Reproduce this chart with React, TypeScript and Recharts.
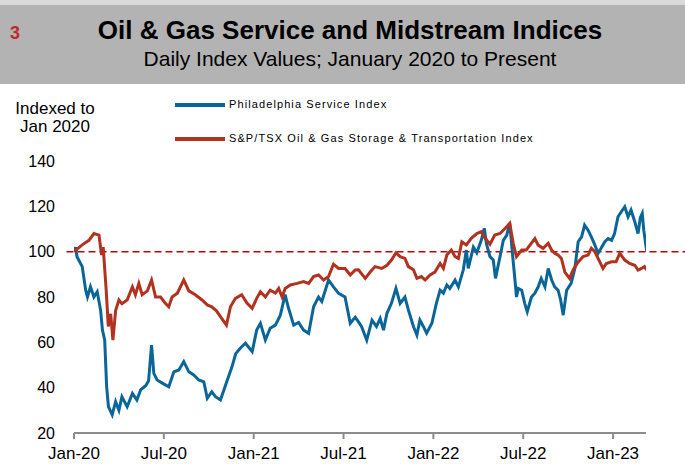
import React from "react";
import { LineChart, Line, XAxis, YAxis, ReferenceLine } from "recharts";

// months since Jan 2020 / index level (Jan 2020 = 100)
const phlxMonths = [
  0, 0.1, 0.2, 0.55, 0.78, 0.9, 1.1, 1.33, 1.55, 1.78, 1.9, 2.05, 2.18, 2.3, 2.55, 2.78, 3.0, 3.2, 3.55, 3.9,
  4.2, 4.45, 4.8, 4.98, 5.18, 5.33, 5.55, 5.9, 6.33, 6.67, 7.0, 7.33, 7.67, 8.0, 8.33, 8.67, 8.9, 9.2, 9.45, 9.78,
  10.2, 10.55, 10.8, 11.1, 11.45, 11.9, 12.2, 12.45, 12.78, 13.1, 13.45, 13.78, 14.1, 14.3, 14.67, 15.0, 15.33, 15.67, 16.0, 16.33,
  16.55, 17.0, 17.33, 17.67, 18.1, 18.45, 18.78, 19.0, 19.2, 19.55, 19.9, 20.2, 20.45, 20.67, 20.9, 21.2, 21.5, 21.78, 22.1, 22.33,
  22.67, 22.9, 23.1, 23.33, 23.55, 23.9, 24.2, 24.45, 24.67, 24.9, 25.1, 25.45, 25.67, 26.0, 26.2, 26.33, 26.67, 26.9, 27.2, 27.4,
  27.55, 27.78, 28.0, 28.15, 28.45, 28.67, 28.9, 29.1, 29.3, 29.45, 29.55, 29.67, 29.9, 30.1, 30.27, 30.55, 30.78, 31.0, 31.2, 31.45,
  31.67, 31.9, 32.1, 32.33, 32.5, 32.67, 32.9, 33.2, 33.45, 33.67, 33.9, 34.1, 34.33, 34.55, 34.78, 35.0, 35.2, 35.45, 35.67, 35.9,
  36.1, 36.33, 36.55, 36.78, 37.0, 37.2, 37.45, 37.67, 37.82, 37.95, 38.05, 38.25,
];
const phlxValues = [
  100, 102, 97.8, 93.4, 83, 80, 84.5, 80, 82.3, 74, 65.4, 61, 40.4, 31.6, 28, 33.8, 30, 36, 31.6, 37.5,
  34.6, 39, 41, 43, 58.8, 46.3, 43.4, 42, 40.4, 47, 47.8, 51.5, 47, 45.6, 43.4, 42.6, 35.3, 38.2, 36, 34.6,
  42.6, 49.2, 55, 57.4, 59.6, 55.9, 65.4, 68.4, 61, 66.2, 67.6, 72, 81, 75.7, 67.6, 68.8, 65.4, 64, 75.7, 80,
  78, 87.5, 84.5, 81.6, 80, 68.4, 71.1, 69, 67, 61, 69.8, 67, 70.5, 65.4, 72.8, 77.2, 83.8, 77.2, 80, 74.3,
  67, 63.2, 69.8, 67, 64, 68.4, 77.2, 83, 81.7, 85.3, 83.8, 87.5, 84.5, 92, 100.7, 92.6, 102, 99.5, 105, 110.3,
  103.3, 97.8, 96.3, 88.2, 97.8, 105, 107.3, 112.5, 97.8, 87.5, 80, 83.8, 83, 77.2, 73.5, 80, 81.7, 84.5, 88.2, 84.5,
  92.6, 87.5, 84.5, 83, 78.7, 72, 83, 86, 92.6, 104.4, 106.5, 111.7, 109.5, 106.5, 103, 99.3, 101.5, 104.4, 105.8, 105,
  108, 115.4, 117.6, 119.8, 115.4, 118.4, 113.2, 108, 115, 116.9, 109.5, 100,
];

const tsxMonths = [
  0, 0.55, 1.0, 1.33, 1.67, 1.84, 1.95, 2.15, 2.29, 2.45, 2.6, 2.78, 3.0, 3.2, 3.55, 3.9, 4.1, 4.33, 4.55, 4.9,
  5.18, 5.45, 5.78, 6.1, 6.33, 6.55, 6.9, 7.33, 7.67, 8.1, 8.55, 8.9, 9.2, 9.5, 9.78, 10.18, 10.45, 10.78, 11.2, 11.55,
  11.9, 12.2, 12.45, 12.78, 13.1, 13.45, 13.67, 13.9, 14.1, 14.45, 14.9, 15.33, 15.67, 16.0, 16.33, 16.67, 17.0, 17.33, 17.67, 18.1,
  18.45, 18.78, 19.0, 19.45, 19.78, 20.1, 20.55, 20.9, 21.2, 21.5, 21.78, 22.1, 22.33, 22.67, 22.9, 23.2, 23.45, 23.78, 24.1, 24.45,
  24.67, 24.9, 25.2, 25.45, 25.67, 25.9, 26.2, 26.55, 26.9, 27.2, 27.45, 27.78, 28.1, 28.45, 28.8, 29.1, 29.33, 29.55, 29.9, 30.2,
  30.45, 30.78, 31.0, 31.33, 31.67, 31.9, 32.1, 32.33, 32.55, 32.78, 33.1, 33.33, 33.67, 34.0, 34.33, 34.55, 34.78, 35.0, 35.33, 35.55,
  35.9, 36.2, 36.45, 36.78, 37.1, 37.45, 37.67, 37.9, 38.1, 38.25,
];
const tsxValues = [
  100, 103, 105, 108, 107.3, 98.5, 102, 83, 67, 72.6, 61, 74, 78.7, 77, 78.7, 84.5, 81, 86, 81, 82.7,
  87.5, 80, 80, 77.2, 75.7, 80, 81.7, 87.5, 82.7, 81, 78.7, 76.5, 75.7, 74, 71.3, 67.6, 75.7, 79.4, 81, 77.3,
  75, 79.4, 82.3, 80, 83, 81.7, 83.8, 80, 83.8, 85.3, 86, 86.8, 86, 89, 89.7, 87.5, 89, 94.5, 92.6, 92.6,
  89.7, 91.9, 92, 88.2, 91, 93.4, 92.6, 94, 96.3, 99.5, 97.8, 97, 93.4, 92, 88.2, 89, 87.5, 89.7, 91, 94.8,
  92.6, 98.5, 100.7, 97.8, 97, 104.4, 103, 106, 108, 108.8, 106, 103.3, 107.3, 108, 110.3, 112.5, 103.7, 97.8, 100.7, 100.7,
  102.9, 105.8, 102.9, 101.5, 103.7, 100.7, 99.3, 98.5, 97, 91, 88.2, 91.9, 95.5, 97.8, 98.5, 101.5, 100, 97, 92.6, 94.8,
  95.5, 95.5, 99.3, 96.3, 94.8, 94, 91.9, 92.6, 93.4, 91.9,
];

const xTicks = [0, 6, 12, 18, 24, 30, 36];
const xTickLabels = ["Jan-20", "Jul-20", "Jan-21", "Jul-21", "Jan-22", "Jul-22", "Jan-23"];
const yTicks = [20, 40, 60, 80, 100, 120, 140];

const phlxData = phlxMonths.map((m, i) => ({ m, v: phlxValues[i] }));
const tsxData = tsxMonths.map((m, i) => ({ m, v: tsxValues[i] }));

const BLUE = "#0a6699";
const RED = "#b0321f";
const FONT = "'Liberation Sans', Arial, sans-serif";

export default function App() {
  return (
    <div
      style={{
        position: "absolute",
        left: 0,
        top: 0,
        width: 685,
        height: 475,
        background: "#fff",
        fontFamily: FONT,
        overflow: "hidden",
      }}
    >
      {/* header band */}
      <div style={{ position: "absolute", left: 0, top: 0, width: 685, height: 5, background: "#d9d9d9" }} />
      <div style={{ position: "absolute", left: 0, top: 5, width: 685, height: 79, background: "#b3b3b3" }} />
      <div
        style={{
          position: "absolute",
          left: 10,
          top: 24,
          fontSize: 18,
          lineHeight: 1,
          fontWeight: "bold",
          color: "#c0282e",
        }}
      >
        3
      </div>
      <div
        style={{
          position: "absolute",
          left: 0,
          width: 700,
          top: 17,
          textAlign: "center",
          fontSize: 26,
          lineHeight: 1,
          fontWeight: "bold",
          color: "#000",
        }}
      >
        Oil &amp; Gas Service and Midstream Indices
      </div>
      <div
        style={{
          position: "absolute",
          left: 0,
          width: 700,
          top: 48,
          textAlign: "center",
          fontSize: 21,
          lineHeight: 1,
          color: "#000",
        }}
      >
        Daily Index Values; January 2020 to Present
      </div>

      {/* y axis title */}
      <div
        style={{
          position: "absolute",
          left: 0,
          width: 110,
          top: 100,
          textAlign: "center",
          fontSize: 17,
          lineHeight: "18px",
          color: "#000",
        }}
      >
        Indexed to
        <br />
        Jan 2020
      </div>

      {/* legend */}
      {[
        { label: "Philadelphia Service Index", color: BLUE, y: 105 },
        { label: "S&P/TSX Oil & Gas Storage & Transportation Index", color: RED, y: 139 },
      ].map((it) => (
        <div key={it.label}>
          <div
            style={{
              position: "absolute",
              left: 175,
              top: it.y - 2,
              width: 50,
              height: 4,
              background: it.color,
            }}
          />
          <div
            style={{
              position: "absolute",
              left: 229,
              top: it.y - 6,
              fontSize: 11,
              lineHeight: 1,
              letterSpacing: 1.1,
              color: "#000",
              whiteSpace: "nowrap",
            }}
          >
            {it.label}
          </div>
        </div>
      ))}

      <div style={{ position: "absolute", left: 0, top: 0 }}>
        <LineChart width={685} height={475} margin={{ top: 161, right: 39, bottom: 0, left: 0 }}>
          <XAxis
            type="number"
            dataKey="m"
            domain={[0, 38.2]}
            ticks={xTicks}
            tickFormatter={(v: number) => xTickLabels[xTicks.indexOf(v)]}
            allowDataOverflow
            axisLine={{ stroke: "#8c8c8c", strokeWidth: 2 }}
            tickLine={{ stroke: "#8c8c8c", strokeWidth: 2 }}
            tickSize={6}
            tickMargin={8}
            tick={{ fill: "#000", fontSize: 17, fontFamily: FONT }}
            height={42}
          />
          <YAxis
            type="number"
            domain={[20, 140]}
            ticks={yTicks}
            axisLine={false}
            tickLine={false}
            tickSize={0}
            tickMargin={19}
            width={74}
            tick={{ fill: "#000", fontSize: 16, fontFamily: FONT }}
          />
          <ReferenceLine
            segment={[
              { x: -0.5, y: 100 },
              { x: 40.8, y: 100 },
            ]}
            ifOverflow="visible"
            stroke="#c00000"
            strokeWidth={1.5}
            strokeDasharray="7 4"
          />
          <Line
            data={phlxData}
            dataKey="v"
            type="linear"
            stroke={BLUE}
            strokeWidth={3}
            dot={false}
            isAnimationActive={false}
          />
          <Line
            data={tsxData}
            dataKey="v"
            type="linear"
            stroke={RED}
            strokeWidth={3}
            dot={false}
            isAnimationActive={false}
          />
        </LineChart>
      </div>
    </div>
  );
}
